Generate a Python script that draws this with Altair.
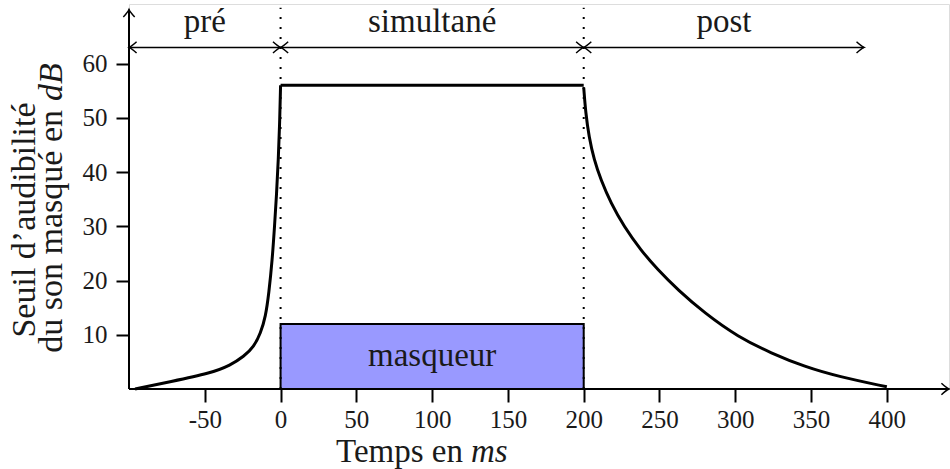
import altair as alt
import pandas as pd

# ---- data ----
pre_x = [-96, -72.6, -46.2, -33.0, -24.2, -17.6, -13.2, -9.9, -7.7, -5.5, -4.0, -2.6, -1.5, -0.66, 0]
pre_y = [0, 1.35, 2.9, 4.4, 6.0, 7.8, 10.3, 13.3, 17.7, 23.8, 29.9, 36.1, 42.3, 48.4, 56]
flat_x = [0, 200]
flat_y = [56, 56]
post_x = [200, 201.3, 203.5, 206.8, 211.3, 217.9, 226.7, 237.7, 248.8, 262.1, 279.7,
          301.8, 323.8, 345.9, 368.0, 400]
post_y = [55.6, 50.9, 46.5, 42.3, 38.6, 34.3, 29.9, 25.6, 22.0, 18.3, 14.0,
          9.6, 6.6, 4.1, 2.3, 0.4]

phase_labels = ["pré", "simultané", "post"]
phase_start = [-100, 0, 200]
phase_end = [0, 200, 385]
phase_y = 63
label_y = 67.6

masker_label = "masqueur"
masker_x = [0, 200]
masker_y = [0, 12]

x_ticks = [-50, 0, 50, 100, 150, 200, 250, 300, 350, 400]
y_ticks = [10, 20, 30, 40, 50, 60]
x_domain = [-100, 441]
y_domain = [0, 71]
y_axis_top = 70
divider_x = [0, 200]

FONT = "Liberation Serif"

# ---- tables ----
curve = pd.DataFrame(
    {"x": pre_x + flat_x + post_x,
     "y": pre_y + flat_y + post_y,
     "seg": ["pre"] * len(pre_x) + ["flat"] * len(flat_x) + ["post"] * len(post_x)}
)
phases = pd.DataFrame({"label": phase_labels, "x0": phase_start, "x1": phase_end,
                       "xm": [(a + b) / 2 for a, b in zip(phase_start, phase_end)],
                       "y": [phase_y] * 3, "ly": [label_y] * 3})
heads = pd.DataFrame({
    "x": phase_start + phase_end + [x_domain[1], x_domain[0]],
    "y": [phase_y] * 6 + [0, y_axis_top],
    "ang": [180] * 3 + [0] * 3 + [0, 270],
})
masker = pd.DataFrame({"x0": [masker_x[0]], "x1": [masker_x[1]],
                       "y0": [masker_y[0]], "y1": [masker_y[1]],
                       "xm": [sum(masker_x) / 2], "ym": [sum(masker_y) / 2],
                       "label": [masker_label]})
dividers = pd.DataFrame({"x": divider_x, "y0": [0, 0], "y1": [70.3, 70.3]})
axes_lines = pd.DataFrame({"x0": [x_domain[0], x_domain[0]], "x1": [x_domain[1], x_domain[0]],
                           "y0": [0, 0], "y1": [0, y_axis_top]})

xs = alt.Scale(domain=x_domain, nice=False, zero=False)
ys = alt.Scale(domain=y_domain, nice=False, zero=False)
xaxis = alt.Axis(values=x_ticks, title=None, domain=False, grid=False, tickSize=13,
                 tickWidth=2, tickColor="black", labelFont=FONT, labelFontSize=25,
                 labelColor="#1a1a1a", labelPadding=5, labelOverlap=False,
                 labelFlush=False, labelExpr="'' + datum.value")
yaxis = alt.Axis(values=y_ticks, title=None, domain=False, grid=False, tickSize=13,
                 tickWidth=2, tickColor="black", labelFont=FONT, labelFontSize=25,
                 labelColor="#1a1a1a", labelPadding=9, labelExpr="'' + datum.value")


def X(f):
    return alt.X(f, type="quantitative", scale=xs, axis=xaxis)


def Y(f):
    return alt.Y(f, type="quantitative", scale=ys, axis=yaxis)


rect = alt.Chart(masker).mark_rect(fill="#9999ff", stroke="black", strokeWidth=2).encode(
    x=X("x0"), x2="x1", y=Y("y0"), y2="y1")
rect_text = alt.Chart(masker).mark_text(font=FONT, fontSize=33, color="#1a1a1a",
                                        baseline="middle").encode(
    x=X("xm"), y=Y("ym"), text="label")

divs = alt.Chart(dividers).mark_rule(color="black", strokeWidth=2, strokeDash=[2, 8]).encode(
    x=X("x"), y=Y("y0"), y2="y1")

line = alt.Chart(curve).mark_line(color="black", strokeWidth=3, interpolate="basis").encode(
    x=X("x"), y=Y("y"), detail="seg")

axl = alt.Chart(axes_lines).mark_rule(color="black", strokeWidth=2).encode(
    x=X("x0"), x2="x1", y=Y("y0"), y2="y1")

prule = alt.Chart(phases).mark_rule(color="black", strokeWidth=1.5).encode(
    x=X("x0"), x2="x1", y=Y("y"))
ptext = alt.Chart(phases).mark_text(font=FONT, fontSize=33, color="#1a1a1a",
                                    baseline="middle").encode(
    x=X("xm"), y=Y("ly"), text="label")

arrow_shape = "M -1 -0.75 Q -0.35 -0.15 0 0 Q -0.35 0.15 -1 0.75"
ahead = alt.Chart(heads).mark_point(shape=arrow_shape, filled=False, color="black",
                                    strokeWidth=1.5, size=230, opacity=1).encode(
    x=X("x"), y=Y("y"), angle=alt.Angle("ang:Q", scale=None))

# titles (with italic units)
tx1 = alt.Chart(pd.DataFrame({"t": ["Temps en"]})).mark_text(
    font=FONT, fontSize=33, color="#1a1a1a", align="right", baseline="alphabetic").encode(
    x=alt.value(334), y=alt.value(458), text="t")
tx2 = alt.Chart(pd.DataFrame({"t": ["ms"]})).mark_text(
    font=FONT, fontSize=33, fontStyle="italic", color="#1a1a1a", align="left",
    baseline="alphabetic").encode(x=alt.value(342), y=alt.value(458), text="t")
ty1 = alt.Chart(pd.DataFrame({"t": ["Seuil d’audibilité"]})).mark_text(
    font=FONT, fontSize=34, color="#1a1a1a", align="center", baseline="alphabetic",
    angle=270).encode(x=alt.value(-94), y=alt.value(216), text="t")
ty2 = alt.Chart(pd.DataFrame({"t": ["du son masqué en"]})).mark_text(
    font=FONT, fontSize=34, color="#1a1a1a", align="right", baseline="alphabetic",
    angle=270).encode(x=alt.value(-67), y=alt.value(106), text="t")
ty3 = alt.Chart(pd.DataFrame({"t": ["dB"]})).mark_text(
    font=FONT, fontSize=34, fontStyle="italic", color="#1a1a1a", align="left",
    baseline="alphabetic", angle=270).encode(x=alt.value(-67), y=alt.value(97), text="t")

chart = alt.layer(
    rect, rect_text, divs, line, axl, prule, ahead, ptext, tx1, tx2, ty1, ty2, ty3
).properties(
    width=820, height=385,
    padding={"left": 129, "top": 4, "right": 1, "bottom": 80},
    autosize=alt.AutoSizeParams(type="none"),
).configure_view(stroke=None).configure(background="white")

chart.save("out.html", embed_options={"renderer": "svg", "actions": False})
